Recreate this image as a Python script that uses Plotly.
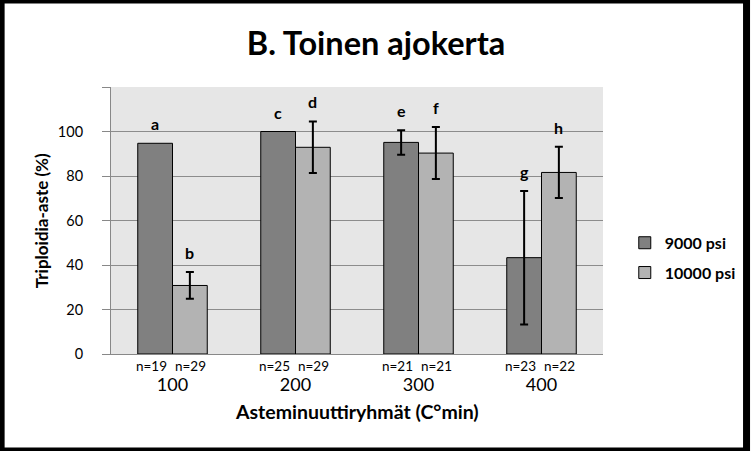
import plotly.graph_objects as go

# data
groups = ["100", "200", "300", "400"]
psi9000 = [94.7, 100.0, 95.1, 43.3]
psi9000_err = [None, None, 5.5, 30.0]
psi10000 = [30.8, 92.9, 90.3, 81.6]
psi10000_err = [6.0, 11.6, 11.7, 11.5]
n9000 = ["n=19", "n=25", "n=21", "n=23"]
n10000 = ["n=29", "n=29", "n=21", "n=22"]
letters9000 = ["a", "c", "e", "g"]
letters10000 = ["b", "d", "f", "h"]
yticks = [0, 20, 40, 60, 80, 100, 120]
ytick_text = ["0", "20", "40", "60", "80", "100", ""]

FONT = "Lato"
W, H = 753, 451
ML, MR, MT, MB = 111, 145, 87, 97
bargap = 0.435
half = (1 - bargap) / 4  # centre offset of each bar inside its group
pw = W - ML - MR
ph = H - MT - MB


def err_array(errs):
    # "NaN" makes plotly.js skip the error bar for that point
    return [e if e is not None else "NaN" for e in errs]


fig = go.Figure()

fig.add_trace(go.Bar(
    x=groups, y=psi9000, name="<b>9000 psi</b>", legendgroup="a",
    marker=dict(color="#808080", line=dict(color="black", width=1)),
    error_y=dict(type="data", array=err_array(psi9000_err), color="black",
                 thickness=2, width=4, visible=True),
))
fig.add_trace(go.Bar(
    x=groups, y=psi10000, name="<b>10000 psi</b>", legendgroup="b",
    marker=dict(color="#b3b3b3", line=dict(color="black", width=1)),
    error_y=dict(type="data", array=err_array(psi10000_err), color="black",
                 thickness=2, width=4, visible=True),
))

# letters above the bars and n= labels under them
annotations = []
for i in range(len(groups)):
    for off, val, err, let, n in [
        (-half, psi9000[i], psi9000_err[i], letters9000[i], n9000[i]),
        (half, psi10000[i], psi10000_err[i], letters10000[i], n10000[i]),
    ]:
        annotations.append(dict(
            x=i + off, y=val + (err or 0), xref="x", yref="y", text=f"<b>{let}</b>",
            showarrow=False, yanchor="bottom", yshift=8,
            font=dict(family=FONT, size=16, color="black"),
        ))
        annotations.append(dict(
            x=i + off, y=0, xref="x", yref="paper", text=n,
            showarrow=False, yanchor="top", yshift=-2,
            xshift=-4 if off < 0 else 1,
            font=dict(family=FONT, size=13.5, color="black"),
        ))

# axis titles
annotations.append(dict(
    x=0.5, y=-57 / ph, xref="paper", yref="paper", showarrow=False,
    text="<b>Asteminuuttiryhmät (C°min)</b>", xanchor="center", yanchor="middle",
    font=dict(family=FONT, size=19.5, color="black"),
))
annotations.append(dict(
    x=-70 / pw, y=0.5, xref="paper", yref="paper", showarrow=False, textangle=-90,
    text="<b>Triploidia-aste (%)</b>", xanchor="center", yanchor="middle",
    font=dict(family=FONT, size=17, color="black"),
))

fig.update_layout(
    width=W, height=H,
    margin=dict(l=ML, r=MR, t=MT, b=MB),
    paper_bgcolor="white",
    plot_bgcolor="#e6e6e6",
    barmode="group",
    bargap=bargap,
    bargroupgap=0,
    title=dict(text="<b>B. Toinen ajokerta</b>", x=376 / W, xref="container",
               xanchor="center", y=1 - 44 / H, yref="container", yanchor="middle",
               font=dict(family=FONT, size=32.5, color="black")),
    font=dict(family=FONT, color="black"),
    xaxis=dict(
        type="category", range=[-0.5, 3.5],
        showline=True, linecolor="#888888", linewidth=1,
        ticks="", tickfont=dict(family=FONT, size=18, color="black"),
        ticklabelstandoff=14,
    ),
    yaxis=dict(
        range=[0, 120], tickvals=yticks, ticktext=ytick_text,
        showgrid=True, gridcolor="#8c8c8c", gridwidth=1,
        showline=True, linecolor="#888888", linewidth=1,
        ticks="outside", ticklen=8, tickcolor="#888888",
        tickfont=dict(family=FONT, size=14.5, color="black"),
        ticklabelstandoff=16,
        zeroline=False,
    ),
    legend=dict(
        x=1 + 22 / pw, xanchor="left", y=0.48, yanchor="top",
        traceorder="grouped", tracegroupgap=6, itemwidth=30,
        font=dict(family=FONT, size=16, color="black"),
        bgcolor="rgba(0,0,0,0)",
    ),
    annotations=annotations,
    shapes=[dict(
        type="rect", xref="paper", yref="paper",
        x0=-ML / pw, x1=1 + MR / pw, y0=-MB / ph, y1=1 + MT / ph,
        line=dict(color="black", width=7), fillcolor="rgba(0,0,0,0)",
    )],
)

fig.write_html("out.html", config={"displayModeBar": False},
               post_script="document.body.style.margin='0';")
